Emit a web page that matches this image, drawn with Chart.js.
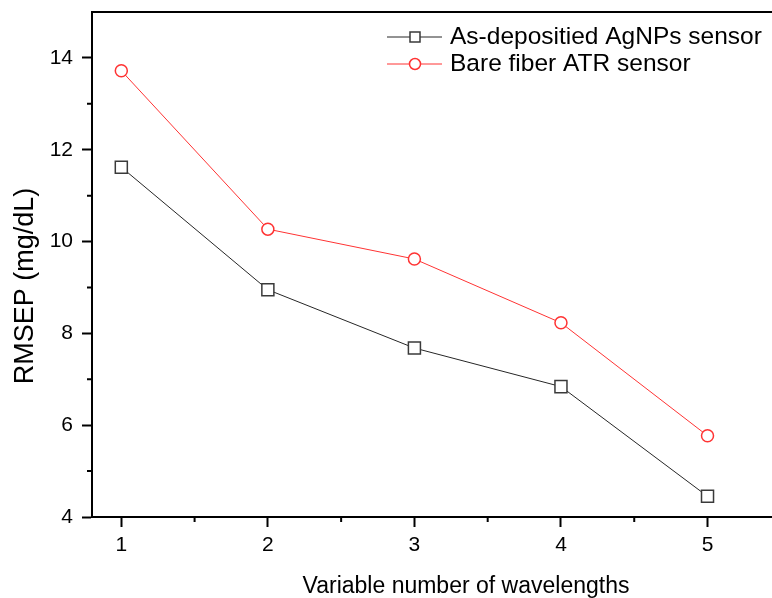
<!DOCTYPE html>
<html lang="en">
<head>
	<meta charset="UTF-8">
	<title>RMSEP vs number of wavelengths</title>
	<script src="https://cdn.jsdelivr.net/npm/chart.js"></script>
	<style>
    	body {
        	margin: 0;
        	padding: 0;
        	background-color: #fff;
        	overflow: hidden;
    	}
    	.chart-wrapper {
        	width: 772px;
        	height: 598px;
    	}
	</style>
</head>
<body>

	<div class="chart-wrapper">
    	<canvas id="rmsepChart"></canvas>
	</div>

	<script>
    	// data
    	const wavelengths = [1, 2, 3, 4, 5];
    	const agnpsSensor = [11.62, 8.95, 7.68, 6.84, 4.45];
    	const bareSensor = [13.72, 10.27, 9.62, 8.23, 5.77];
    	const xTicks = [1, 2, 3, 4, 5];
    	const yTicks = [4, 6, 8, 10, 12, 14];
    	const xMinor = [1.5, 2.5, 3.5, 4.5];
    	const yMinor = [5, 7, 9, 11, 13];

    	const FONT = "'Liberation Sans', Arial, sans-serif";

    	// minor ticks, top frame, axis titles and the legend
    	const decorations = {
        	id: 'decorations',
        	afterDraw(chart) {
            	const ctx = chart.ctx;
            	const x = chart.scales.x, y = chart.scales.y;
            	const area = chart.chartArea;
            	ctx.save();
            	ctx.strokeStyle = '#000';
            	ctx.lineWidth = 2;
            	ctx.beginPath();
            	xMinor.forEach(v => {
                	const px = x.getPixelForValue(v);
                	ctx.moveTo(px, area.bottom);
                	ctx.lineTo(px, area.bottom + 5);
            	});
            	yMinor.forEach(v => {
                	const py = y.getPixelForValue(v);
                	ctx.moveTo(area.left, py);
                	ctx.lineTo(area.left - 5, py);
            	});
            	// top frame line
            	ctx.moveTo(area.left - 1, area.top);
            	ctx.lineTo(chart.width, area.top);
            	ctx.stroke();

            	// axis titles
            	ctx.fillStyle = '#000';
            	ctx.font = `23px ${FONT}`;
            	ctx.textAlign = 'center';
            	ctx.textBaseline = 'alphabetic';
            	ctx.fillText('Variable number of wavelengths', 466, 593);

            	ctx.save();
            	ctx.translate(33, 286);
            	ctx.rotate(-Math.PI / 2);
            	ctx.font = `27px ${FONT}`;
            	ctx.fillText('RMSEP (mg/dL)', 0, 0);
            	ctx.restore();

            	// legend: line - marker - line, then label
            	ctx.font = `24.5px ${FONT}`;
            	ctx.textAlign = 'left';
            	ctx.textBaseline = 'middle';
            	chart.data.datasets.forEach((ds, i) => {
                	const ly = 37 + i * 27;
                	ctx.strokeStyle = ds.borderColor;
                	ctx.lineWidth = 1;
                	ctx.beginPath();
                	ctx.moveTo(387, ly);
                	ctx.lineTo(442, ly);
                	ctx.stroke();
                	ctx.fillStyle = '#fff';
                	ctx.strokeStyle = ds.pointBorderColor;
                	ctx.lineWidth = 1.5;
                	ctx.beginPath();
                	if (ds.pointStyle === 'rect') {
                    	ctx.rect(410, ly - 5, 10, 10);
                	} else {
                    	ctx.arc(415, ly, 5.5, 0, Math.PI * 2);
                	}
                	ctx.fill();
                	ctx.stroke();
                	ctx.fillStyle = '#000';
                	ctx.fillText(ds.label, 450, ly);
            	});
            	ctx.restore();
        	}
    	};

    	const toPoints = vals => vals.map((v, i) => ({ x: wavelengths[i], y: v }));

    	new Chart(document.getElementById('rmsepChart').getContext('2d'), {
        	type: 'line',
        	data: {
            	datasets: [
                	{
                    	label: 'As-depositied AgNPs sensor',
                    	data: toPoints(agnpsSensor),
                    	borderColor: '#262626',
                    	borderWidth: 1,
                    	pointStyle: 'rect',
                    	pointRadius: 8.5,
                    	pointBorderColor: '#3a3a3a',
                    	pointBorderWidth: 1.5,
                    	pointBackgroundColor: '#ffffff',
                    	fill: false
                	},
                	{
                    	label: 'Bare fiber ATR sensor',
                    	data: toPoints(bareSensor),
                    	borderColor: '#ff3333',
                    	borderWidth: 1,
                    	pointStyle: 'circle',
                    	pointRadius: 6,
                    	pointBorderColor: '#ff3333',
                    	pointBorderWidth: 1.5,
                    	pointBackgroundColor: '#ffffff',
                    	fill: false
                	}
            	]
        	},
        	options: {
            	responsive: true,
            	maintainAspectRatio: false,
            	animation: false,
            	layout: { autoPadding: false, padding: { top: 12, right: 0, left: 0, bottom: 0 } },
            	plugins: {
                	legend: { display: false },
                	tooltip: { enabled: false }
            	},
            	scales: {
                	x: {
                    	type: 'linear',
                    	min: 0.8,
                    	max: 5.44,
                    	afterFit: s => { s.height = 81; s.paddingLeft = 0; s.paddingRight = 0; },
                    	afterBuildTicks: s => { s.ticks = xTicks.map(v => ({ value: v })); },
                    	grid: { drawOnChartArea: false, drawTicks: true, tickLength: 10, tickWidth: 2, tickColor: '#000' },
                    	border: { display: true, color: '#000', width: 2 },
                    	ticks: { color: '#000', font: { family: FONT, size: 21 }, padding: 6, maxRotation: 0 }
                	},
                	y: {
                    	min: 4,
                    	max: 15,
                    	afterFit: s => { s.width = 92; s.paddingTop = 0; s.paddingBottom = 0; },
                    	afterBuildTicks: s => { s.ticks = yTicks.map(v => ({ value: v })); },
                    	grid: { drawOnChartArea: false, drawTicks: true, tickLength: 10, tickWidth: 2, tickColor: '#000' },
                    	border: { display: true, color: '#000', width: 2 },
                    	ticks: { color: '#000', font: { family: FONT, size: 21 }, padding: 9 }
                	}
            	}
        	},
        	plugins: [decorations]
    	});
	</script>

</body>
</html>
